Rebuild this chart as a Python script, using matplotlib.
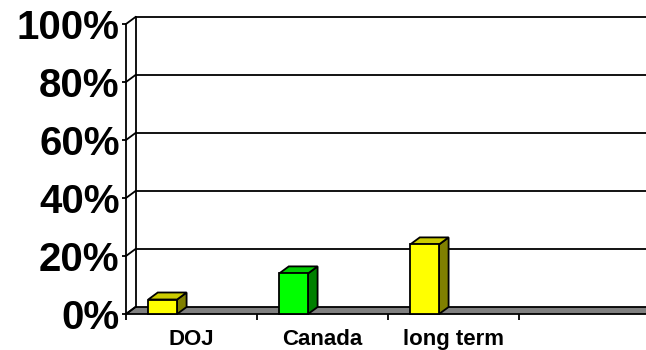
# -*- coding: utf-8 -*-
"""
Pseudo-3D column chart (Excel style): DOJ / Canada / long term
"""

import matplotlib
matplotlib.use('Agg')
import matplotlib.pyplot as plt
from matplotlib.patches import Polygon, Rectangle

plt.rcParams['font.family'] = ['Liberation Sans', 'DejaVu Sans']

# data
categories = ['DOJ', 'Canada', 'long term', '']
values = [0.05, 0.14, 0.24]
front_colors = ['#FFFF00', '#00FF00', '#FFFF00']
top_colors = ['#CCCC00', '#00CC00', '#CCCC00']
side_colors = ['#808000', '#008000', '#808000']
y_ticks = [0, 0.2, 0.4, 0.6, 0.8, 1.0]
y_labels = ['0%', '20%', '40%', '60%', '80%', '100%']

W, H = 646, 350
fig = plt.figure(figsize=(W / 100, H / 100), dpi=100)
fig.patch.set_facecolor('white')

# front axis: x=126px, 0% at y=314px, 100% at y=24px, one category = 131px
ax = fig.add_axes([126 / W, (H - 314) / H, 524 / W, 290 / H])
n_cat = len(categories)
ax.set_xlim(0, n_cat)
ax.set_ylim(0, 1)
ax.patch.set_visible(False)

# depth offset (pixels -> data units)
dx = 9.5 / 131
dy = 7 / 290
lw = 1.3

for s in ['top', 'right', 'bottom']:
    ax.spines[s].set_visible(False)
ax.spines['left'].set_linewidth(lw)

# floor
ax.add_patch(Polygon([(0, 0), (n_cat, 0), (n_cat + dx, dy), (dx, dy)],
                     closed=True, facecolor='#808080', edgecolor='black',
                     linewidth=lw, clip_on=False, zorder=1))

# back wall gridlines + diagonals
for yv in y_ticks:
    if yv > 0:
        ax.plot([dx, n_cat + dx], [yv + dy, yv + dy], color='black', lw=lw,
                clip_on=False, zorder=1)
    ax.plot([0, dx], [yv, yv + dy], color='black', lw=lw, clip_on=False, zorder=2)
ax.plot([dx, dx], [dy, 1 + dy], color='black', lw=lw, clip_on=False, zorder=2)

# bars
bar_w = 0.22
shift = -0.22
for i, v in enumerate(values):
    x0 = i + 0.5 + shift - bar_w / 2
    x1 = x0 + bar_w
    ax.add_patch(Polygon([(x1, 0), (x1 + dx, dy), (x1 + dx, v + dy), (x1, v)],
                         closed=True, facecolor=side_colors[i], edgecolor='black',
                         linewidth=lw, clip_on=False, zorder=3))
    ax.add_patch(Polygon([(x0, v), (x1, v), (x1 + dx, v + dy), (x0 + dx, v + dy)],
                         closed=True, facecolor=top_colors[i], edgecolor='black',
                         linewidth=lw, clip_on=False, zorder=3))
    ax.add_patch(Rectangle((x0, 0), bar_w, v, facecolor=front_colors[i],
                           edgecolor='black', linewidth=lw, clip_on=False, zorder=4))

# y axis ticks
ax.set_yticks(y_ticks)
ax.set_yticklabels(y_labels, fontsize=29, fontweight='bold')
ax.tick_params(axis='y', direction='out', length=3, width=lw, pad=1.5)

# x axis: boundary ticks + centered labels
ax.set_xticks(range(n_cat + 1))
ax.set_xticklabels([])
ax.tick_params(axis='x', which='major', direction='out', length=4, width=lw)
ax.set_xticks([i + 0.5 for i in range(n_cat)], minor=True)
ax.set_xticklabels(categories, minor=True, fontsize=16, fontweight='bold')
ax.tick_params(axis='x', which='minor', length=0, pad=11)

plt.savefig('out.png', dpi=100, facecolor='white')
print("Chart saved: out.png")
plt.close()
